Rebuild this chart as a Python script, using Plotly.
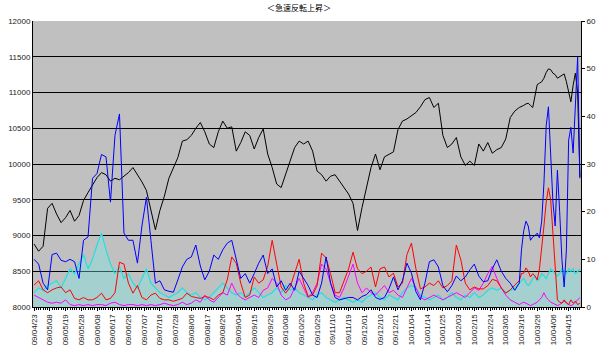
import plotly.graph_objects as go

# trading-day index of each point (every 2nd day, then daily for the last 4 weeks)
day_a = list(range(0, 216, 2))
day_b = list(range(216, 244))

tick_pos = list(range(0, 239, 7))
tick_labels = ["09/04/23", "09/05/08", "09/05/19", "09/05/28", "09/06/08", "09/06/17", "09/06/26",
               "09/07/07", "09/07/16", "09/07/28", "09/08/06", "09/08/17", "09/08/26", "09/09/04",
               "09/09/15", "09/09/29", "09/10/08", "09/10/20", "09/10/29", "09/11/10", "09/11/19",
               "09/12/01", "09/12/10", "09/12/21", "10/01/04", "10/01/14", "10/01/25", "10/02/03",
               "10/02/15", "10/02/24", "10/03/05", "10/03/16", "10/03/26", "10/04/06", "10/04/15"]

# index (left axis)
black_a = [8880, 8780, 8850, 9380, 9450, 9300, 9180, 9250, 9350, 9200,
           9280, 9490, 9600, 9700, 9810, 9880, 9850, 9760, 9800, 9780,
           9830, 9880, 9950, 9850, 9750, 9630, 9350, 9080, 9350, 9550,
           9800, 9950, 10090, 10320, 10340, 10400, 10500, 10580, 10450, 10280,
           10230, 10450, 10600, 10500, 10520, 10180, 10300, 10450, 10400, 10210,
           10370, 10490, 10140, 9950, 9720, 9670, 9850, 10050, 10230, 10320,
           10280, 10320, 10180, 9900, 9850, 9760, 9830, 9850, 9760, 9680,
           9580, 9450, 9070, 9390, 9670, 9950, 10140, 9920, 10100, 10130,
           10170, 10480, 10600, 10630, 10680, 10720, 10800, 10900, 10930, 10790,
           10850, 10400, 10230, 10280, 10370, 10100, 9980, 10040, 9980, 10280,
           10180, 10300, 10150, 10200, 10230, 10350, 10650, 10740]
black_b = [10790, 10800, 10820, 10840, 10850, 10820, 10790, 10950, 11110, 11130,
           11150, 11200, 11280, 11330, 11320, 11270, 11250, 11200, 11220, 11240,
           11260, 11150, 11000, 10870, 11100, 11270, 11000, 9820]

# right-axis series
blue_a = [10, 9, 5, 3.6, 11, 11.3, 9.8, 9.5, 10, 9.5,
          6, 14, 14.7, 27, 28, 32, 31.5, 22, 36, 40.5,
          15.5, 14, 14, 9.2, 17, 23, 14, 5, 5.5, 3.6,
          3.3, 3.1, 5.7, 8.4, 10, 10.5, 13, 8.6, 5.7, 7.5,
          10.9, 10, 12, 13.4, 14, 10, 6, 7, 5, 7,
          9.2, 10.9, 7, 8, 4.2, 5.5, 3.5, 5, 3.5, 7.5,
          6, 4.5, 2.5, 2, 5, 10.5, 5, 2, 1.5, 1.8,
          2, 2, 1.5, 2.2, 2.6, 3.6, 2, 1.6, 2, 3.8,
          6.3, 3.6, 5.5, 9.2, 7.1, 3.2, 1.5, 5, 9.5, 9.9,
          8.4, 4.5, 3.2, 4.5, 6.5, 5.5, 6.3, 7.8, 9, 6.5,
          5.3, 5.5, 8, 9.9, 7.5, 6, 5, 3.5]
blue_b = [5, 12, 16, 18, 17, 14, 14.7, 15, 15.5, 14.5,
          18, 26, 38, 42, 33, 22, 17, 28.7, 20, 10,
          4.2, 12, 35, 37.7, 32.3, 44, 52.4, 27]

red_a = [4.6, 5.5, 3.6, 3, 3.6, 4, 4.2, 3, 3.6, 1.8,
         1.5, 2, 1.5, 1.5, 2, 2.9, 1.5, 1.8, 3, 9.4,
         9, 5, 2.9, 4.5, 2, 1.5, 2.5, 2.9, 1.8, 1.5,
         1.5, 1.2, 1.5, 1.8, 2.9, 2.2, 2, 1.8, 2.2, 2,
         1.5, 2.5, 3, 5.7, 10.5, 9.2, 5, 2, 2.5, 6.3,
         5, 5.7, 8.6, 14, 9, 4.2, 2.9, 4.2, 7.1, 10,
         5, 2.2, 2.5, 4.5, 11.3, 10.3, 7, 3, 3, 5.5,
         8, 11.5, 8, 7, 7.5, 8.4, 4.2, 8, 8.4, 6.3,
         7.1, 4.2, 5, 11, 13.4, 8, 3.8, 4.2, 5, 4.5,
         5.5, 4, 4.5, 5.5, 13, 9.9, 5, 3.6, 4.2, 3.8,
         3.8, 4.5, 5.8, 5.5, 4, 2.9, 3.6, 4.6]
red_b = [5.5, 7, 7.1, 8.2, 7.5, 6.3, 7, 6.5, 5.7, 8,
         12, 17, 22, 25, 22.5, 15, 7, 1.5, 1, 0.8,
         1.5, 0.8, 0.5, 1.5, 0.8, 1.2, 0.5, 0.8]

magenta_a = [2.5, 2, 1.5, 1, 0.8, 1, 0.8, 1.5, 0.5, 0.3,
             0.5, 0.3, 0.5, 0.3, 0.5, 0.5, 0.3, 0.8, 1, 0.5,
             0.3, 0.5, 0.5, 0.3, 0.5, 0.3, 0.5, 0.3, 0.5, 0.8,
             0.5, 0.3, 0.5, 1, 0.5, 0.8, 1.5, 1, 2.5, 1.5,
             1, 2, 3, 2.5, 5, 3, 2, 1.5, 2, 2.5,
             2, 3.5, 4, 6, 5, 2.5, 1.5, 2, 4, 6,
             4, 2, 3, 5, 9, 8, 5, 2.5, 2, 4,
             6.5, 9, 5, 3, 4, 3, 2.5, 3.5, 4.5, 3,
             3.5, 2.5, 2, 4, 6, 4, 2, 1.5, 2, 2.5,
             2, 1.5, 2, 2.5, 3, 2.5, 2, 3, 4, 3.5,
             5, 7, 8.5, 6, 4, 2.5, 1.5, 1]
magenta_b = [0.5, 0.8, 1, 0.8, 0.5, 0.3, 0.5, 0.8, 1, 1.5,
             2, 3, 2, 1.5, 1, 0.8, 0.5, 0.3, 0.5, 0.8,
             1.2, 1, 0.5, 0.3, 0.5, 1, 1.5, 2]

cyan_a = [3, 4, 3.5, 4.5, 5, 5.5, 4, 6, 8, 7,
          9, 11, 8, 10, 13, 15.5, 12, 9, 7, 8.4,
          6, 7, 5, 4, 6, 8, 5, 4, 3, 2.5,
          2, 2.5, 3, 4, 3, 2.5, 3, 2, 1.5, 2,
          3, 4, 5, 4, 3, 2.5, 3, 2, 3, 4,
          3, 2, 2.5, 3, 4, 3, 4.5, 3.5, 4, 3,
          2.5, 2, 1.5, 2.5, 3, 2, 1.5, 1, 1.5, 2,
          1.5, 1, 1.5, 1, 2, 2.5, 3, 2, 1.5, 2.5,
          2, 1.5, 3, 4, 4.5, 4, 2.5, 2, 1.5, 2,
          2.5, 1.5, 2, 3, 2, 1.5, 2.5, 2, 3, 2,
          2.5, 3.5, 4, 3.5, 4, 3, 3.5, 4]
cyan_b = [5, 5.5, 6, 5, 4.5, 5, 6, 6.5, 5.5, 6,
          7, 6.5, 6, 7, 8, 7.5, 7, 6.5, 7, 8,
          7.5, 7, 8, 7.5, 8, 7, 7.5, 8]

days = day_a + day_b
black = black_a + black_b
blue = blue_a + blue_b
red = red_a + red_b
magenta = magenta_a + magenta_b
cyan = cyan_a + cyan_b

fig = go.Figure()
fig.add_trace(go.Scatter(x=days, y=black, mode="lines", line=dict(color="#000000", width=1),
                         yaxis="y", showlegend=False))
fig.add_trace(go.Scatter(x=days, y=cyan, mode="lines", line=dict(color="#22E0E0", width=1.2),
                         fill="tozeroy", fillcolor="rgba(120,235,235,0.38)",
                         yaxis="y2", showlegend=False))
fig.add_trace(go.Scatter(x=days, y=magenta, mode="lines", line=dict(color="#FF00FF", width=1),
                         yaxis="y2", showlegend=False))
fig.add_trace(go.Scatter(x=days, y=red, mode="lines", line=dict(color="#FF0000", width=1),
                         yaxis="y2", showlegend=False))
fig.add_trace(go.Scatter(x=days, y=blue, mode="lines", line=dict(color="#0000FF", width=1),
                         yaxis="y2", showlegend=False))

tickfont = dict(family="Liberation Sans, Arial, sans-serif", size=8, color="#222222")

fig.update_layout(
    width=598, height=360,
    margin=dict(l=33, r=17, t=21, b=53, autoexpand=False),
    paper_bgcolor="#FFFFFF",
    plot_bgcolor="#C0C0C0",
    hovermode=False,
    title=dict(text="＜急速反転上昇＞", x=0.5, xanchor="center", xref="container",
               y=0.978, yanchor="middle", yref="container",
               font=dict(family="Noto Sans CJK JP", size=8, color="#000000")),
    xaxis=dict(range=[-0.5, 243.5], tickmode="array", tickvals=tick_pos, ticktext=tick_labels,
               tickangle=-90, tickfont=tickfont, showgrid=False, zeroline=False, automargin=False,
               showline=True, linecolor="#000000", linewidth=1,
               ticks="outside", ticklen=3, tickcolor="#000000",
               minor=dict(dtick=1, tick0=0, ticks="outside", ticklen=2, tickcolor="#000000")),
    yaxis=dict(range=[8000, 12000], dtick=500, tickfont=tickfont, showgrid=True, automargin=False,
               gridcolor="#000000", gridwidth=1, zeroline=False,
               showline=True, linecolor="#000000", linewidth=1, ticks="", tickformat="d"),
    yaxis2=dict(range=[0, 60], dtick=10, overlaying="y", side="right", tickfont=tickfont,
                showgrid=False, zeroline=False, showline=True, linecolor="#000000", automargin=False,
                linewidth=1, ticks="outside", ticklen=3, tickcolor="#000000"),
)

fig.write_html("out.html", config={"displayModeBar": False, "staticPlot": True},
               post_script="document.body.style.margin='0';")
